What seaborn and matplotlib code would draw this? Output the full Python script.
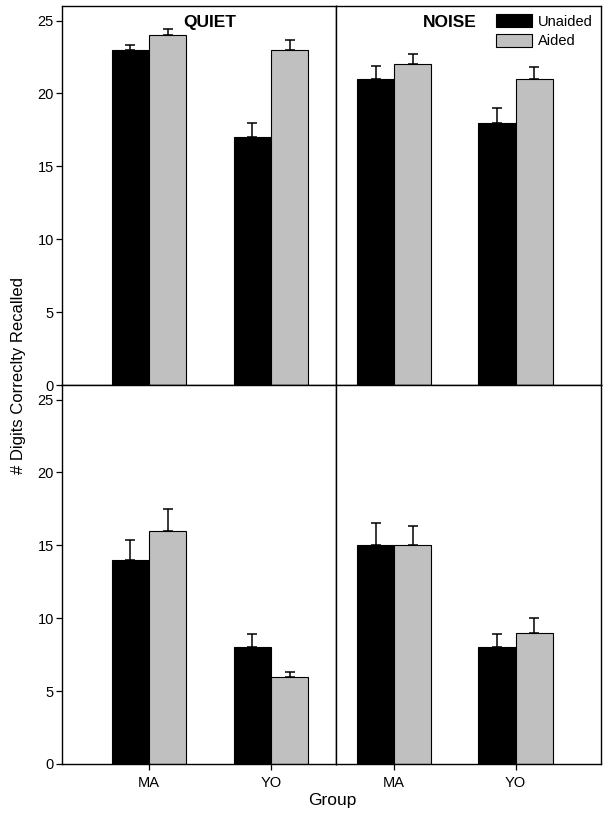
import numpy as np
import pandas as pd
import matplotlib
matplotlib.use("Agg")
import matplotlib.pyplot as plt
import seaborn as sns

# values
groups = ["MA", "YO"]
conditions = ["Unaided", "Aided"]

quiet_top_mean = [23.0, 24.0, 17.0, 23.0]       # MA-U, MA-A, YO-U, YO-A
quiet_top_err = [0.35, 0.4, 1.0, 0.7]
noise_top_mean = [21.0, 22.0, 18.0, 21.0]
noise_top_err = [0.9, 0.7, 1.0, 0.8]

quiet_bot_mean = [14.0, 16.0, 8.0, 6.0]
quiet_bot_err = [1.35, 1.5, 0.95, 0.3]
noise_bot_mean = [15.0, 15.0, 8.0, 9.0]
noise_bot_err = [1.55, 1.3, 0.95, 1.0]

colors = {"Unaided": "black", "Aided": "#c0c0c0"}

sns.set_style("ticks")
plt.rcParams['font.family'] = ['Liberation Sans', 'DejaVu Sans']
plt.rcParams['text.color'] = 'black'
plt.rcParams['xtick.color'] = 'black'
plt.rcParams['ytick.color'] = 'black'
plt.rcParams['axes.labelcolor'] = 'black'


def make_df(means, errs):
    rows = []
    k = 0
    for g in groups:
        for c in conditions:
            rows.append({"group": g, "cond": c, "value": means[k], "err": errs[k]})
            k += 1
    return pd.DataFrame(rows)


fig, axes = plt.subplots(2, 2, figsize=(6.09, 8.15), dpi=100,
                         gridspec_kw={"width_ratios": [274, 265], "wspace": 0, "hspace": 0})
fig.subplots_adjust(left=0.102, right=0.987, top=0.9926, bottom=0.0626)

panels = [(axes[0, 0], quiet_top_mean, quiet_top_err),
          (axes[0, 1], noise_top_mean, noise_top_err),
          (axes[1, 0], quiet_bot_mean, quiet_bot_err),
          (axes[1, 1], noise_bot_mean, noise_bot_err)]

for i, (ax, m, e) in enumerate(panels):
    df = make_df(m, e)
    sns.barplot(data=df, x="group", y="value", hue="cond", hue_order=conditions,
                order=groups, palette=colors, width=0.61, errorbar=None,
                edgecolor="black", linewidth=0.8, saturation=1, ax=ax, legend=(i == 1))
    # one-sided error bars on top of each bar
    for bar_c, c in zip(ax.containers, conditions):
        sub = df[df["cond"] == c]
        xs = [p.get_x() + p.get_width() / 2 for p in bar_c.patches]
        ax.errorbar(xs, sub["value"], yerr=[np.zeros(len(sub)), sub["err"]],
                    fmt="none", ecolor="black", elinewidth=1.1, capsize=3.7, capthick=1.1)
    ax.set_ylim(0, 26)
    if i % 2 == 0:
        ax.set_xlim(-0.713, 1.533)
        ax.set_yticks([0, 5, 10, 15, 20, 25])
        ax.tick_params(axis="y", labelsize=10.5, length=4, width=0.9, pad=2)
    else:
        ax.set_xlim(-0.477, 1.704)
        ax.set_yticks([])
    ax.set_xlabel("")
    ax.set_ylabel("")
    if i < 2:
        ax.set_xticks([])
    else:
        ax.tick_params(axis="x", labelsize=10.5, length=4, width=0.9, pad=5)
    for s in ax.spines.values():
        s.set_visible(True)
        s.set_linewidth(1.0)
        s.set_color("black")

axes[0, 0].text(0.5, 24.85, "QUIET", ha="center", va="center",
                fontsize=12.5, fontweight="bold")
axes[0, 1].text(0.46, 24.9, "NOISE", ha="center", va="center",
                fontsize=12.5, fontweight="bold")

leg = axes[0, 1].legend(loc="upper right", frameon=False, fontsize=10.5,
                        handlelength=2.5, handleheight=1.0, borderaxespad=0.15,
                        labelspacing=0.35, handletextpad=0.4, title=None)

fig.text(0.031, 0.539, "# Digits Correclty Recalled", rotation=90,
         ha="center", va="center", fontsize=12)
fig.text(0.546, 0.018, "Group", ha="center", va="center", fontsize=12.5)

plt.savefig("out.png", dpi=100)
